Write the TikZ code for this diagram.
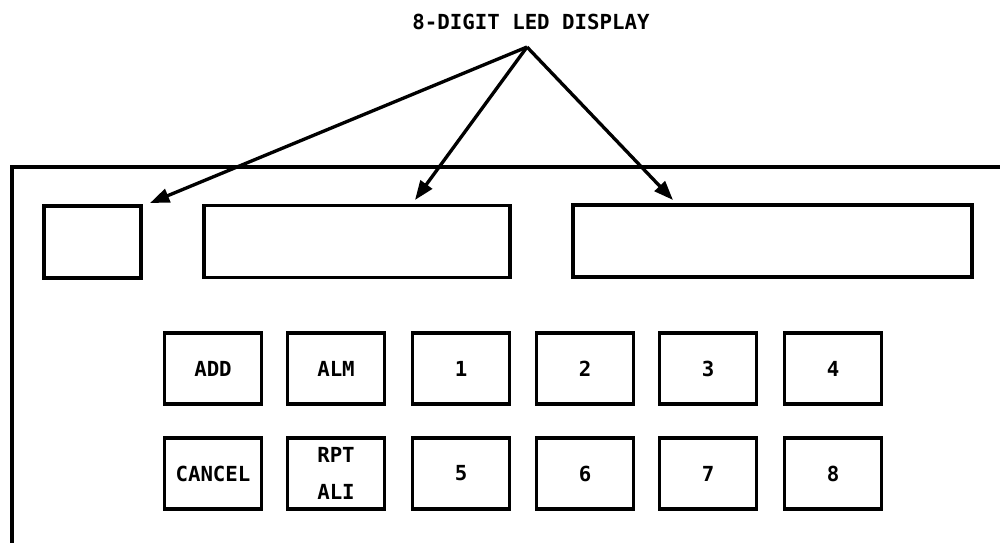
\documentclass[tikz,border=0pt]{standalone}
\usepackage{fontspec}
\newfontfamily\plotfont{DejaVu Sans Mono}
\usetikzlibrary{arrows.meta}

\begin{document}
\begin{tikzpicture}[
    x=0.2mm, y=-0.2mm,
    key/.style={rectangle, draw, line width=1.9pt, minimum width=19.4mm, minimum height=14.2mm, inner sep=0pt, align=center, font={\plotfont\bfseries\fontsize{11.8}{21}\selectfont}},
    led/.style={rectangle, draw, line width=1.9pt, minimum height=14.4mm, inner sep=0pt},
    arrow/.style={-{Triangle[length=11pt, width=8pt]}, line width=1.9pt}
]
    \useasboundingbox (0,0) rectangle (1000,543);

    % Panel outline
    \draw[line width=1.9pt] (1000,167) -- (12,167) -- (12,543);

    % Display windows
    \node[led, minimum width=19.4mm] (led1) at (92.5,242) {};
    \node[led, minimum width=61.2mm] (led2) at (357,241.5) {};
    \node[led, minimum width=79.8mm] (led3) at (772.5,241) {};

    % Label and arrows
    \node[font={\plotfont\bfseries\fontsize{11.8}{14}\selectfont}] (title) at (531,22) {8-DIGIT LED DISPLAY};
    \coordinate (apex) at (527,47);
    \coordinate (tip1) at (150,203);
    \coordinate (tip2) at (415,200);
    \coordinate (tip3) at (673,200);
    \draw[arrow] (apex) -- (tip1);
    \draw[arrow] (apex) -- (tip2);
    \draw[arrow] (apex) -- (tip3);

    % Keys, upper row
    \node[key] (add) at (213,368.5) {ADD};
    \node[key] (alm) at (336,368.5) {ALM};
    \node[key] (k1) at (461,368.5) {1};
    \node[key] (k2) at (585,368.5) {2};
    \node[key] (k3) at (708,368.5) {3};
    \node[key] (k4) at (833,368.5) {4};

    % Keys, lower row
    \node[key] (cancel) at (213,473.5) {CANCEL};
    \node[key] (rpt) at (336,473.5) {RPT\\ALI};
    \node[key] (k5) at (461,473.5) {5};
    \node[key] (k6) at (585,473.5) {6};
    \node[key] (k7) at (708,473.5) {7};
    \node[key] (k8) at (833,473.5) {8};
\end{tikzpicture}
\end{document}
